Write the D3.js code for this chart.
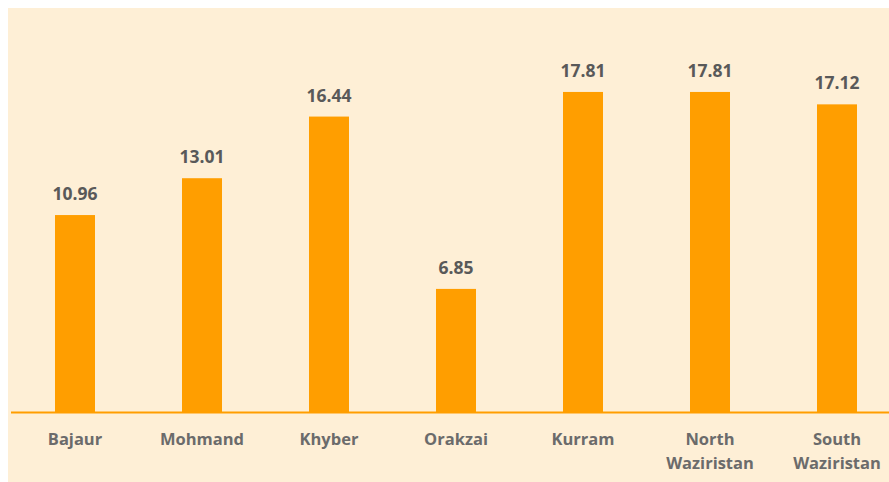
<!DOCTYPE html>
<html>
<head>
<meta charset="utf-8">
<script src="https://cdn.jsdelivr.net/npm/d3@7"></script>
<style>
  body { margin: 0; background: #ffffff; }
  svg { display: block; }
</style>
</head>
<body>
<div id="chart"></div>
<script>
// agency values
const agencies = ["Bajaur", "Mohmand", "Khyber", "Orakzai", "Kurram", "North Waziristan", "South Waziristan"];
const values = [10.96, 13.01, 16.44, 6.85, 17.81, 17.81, 17.12];

const W = 889, H = 482;
const baseY = 412;

const svg = d3.select("#chart")
  .append("svg")
  .attr("width", W)
  .attr("height", H);

svg.append("rect")
  .attr("x", 8).attr("y", 8)
  .attr("width", W - 8).attr("height", H - 8)
  .attr("fill", "#FEEFD6");

const x = d3.scaleBand()
  .domain(agencies)
  .range([11.5, 900.5])
  .paddingInner(0.685)
  .paddingOuter(0.3425);

const y = d3.scaleLinear()
  .domain([0, 20])
  .range([baseY, baseY - 359.4]);

const data = agencies.map((a, i) => ({ name: a, value: values[i] }));

svg.selectAll(".bar")
  .data(data)
  .enter()
  .append("rect")
  .attr("class", "bar")
  .attr("x", (d) => x(d.name))
  .attr("y", (d) => y(d.value))
  .attr("width", x.bandwidth())
  .attr("height", (d) => y(0) - y(d.value))
  .attr("fill", "#FF9E00");

// baseline
svg.append("line")
  .attr("x1", 11).attr("x2", W)
  .attr("y1", baseY + 0.5).attr("y2", baseY + 0.5)
  .attr("stroke", "#FF9E00")
  .attr("stroke-width", 2);

svg.selectAll(".val")
  .data(data)
  .enter()
  .append("text")
  .attr("class", "val")
  .attr("x", (d) => x(d.name) + x.bandwidth() / 2)
  .attr("y", (d) => y(d.value) - 15)
  .attr("text-anchor", "middle")
  .style("font-family", "'Open Sans', sans-serif")
  .style("font-weight", "bold")
  .style("font-size", "17.5px")
  .attr("fill", "#595959")
  .text((d) => d.value.toFixed(2));

const cat = svg.selectAll(".cat")
  .data(data)
  .enter()
  .append("text")
  .attr("class", "cat")
  .attr("x", (d) => x(d.name) + x.bandwidth() / 2)
  .attr("y", 445)
  .attr("text-anchor", "middle")
  .style("font-family", "'Open Sans', sans-serif")
  .style("font-weight", "bold")
  .style("font-size", "16.5px")
  .attr("fill", "#6b6b6b");

cat.each(function (d) {
  const words = d.name.split(" ");
  const t = d3.select(this);
  words.forEach((w, i) => {
    t.append("tspan")
      .attr("x", x(d.name) + x.bandwidth() / 2)
      .attr("dy", i === 0 ? 0 : 24)
      .text(w);
  });
});
</script>
</body>
</html>
